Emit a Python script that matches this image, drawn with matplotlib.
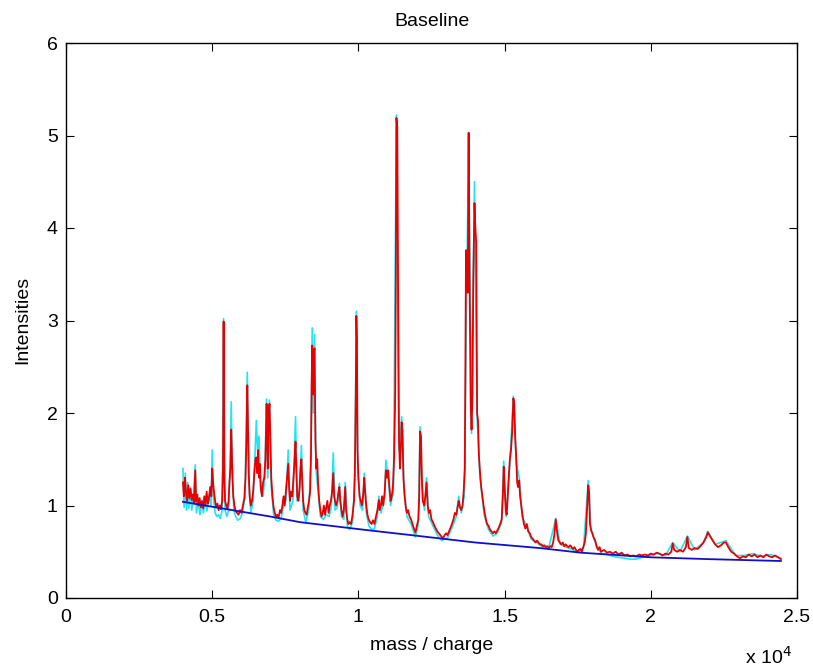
import numpy as np
import matplotlib
matplotlib.use('Agg')
import matplotlib.pyplot as plt

plt.rcParams['font.family'] = ['Liberation Sans', 'DejaVu Sans']

# mass/charge in units of 1e4, intensity
red_points = np.array([
    (0.400, 1.25), (0.403, 1.10), (0.407, 1.30), (0.410, 1.15), (0.414, 1.05),
    (0.418, 1.22), (0.422, 1.08), (0.426, 1.18), (0.430, 1.06), (0.434, 1.12),
    (0.438, 1.02), (0.442, 1.38), (0.445, 1.04), (0.449, 1.12), (0.453, 1.00),
    (0.457, 1.08), (0.461, 0.98), (0.465, 1.05), (0.469, 0.97), (0.473, 1.10),
    (0.477, 1.00), (0.481, 1.15), (0.485, 1.02), (0.489, 1.08), (0.493, 1.20),
    (0.497, 1.10), (0.500, 1.40), (0.503, 1.25), (0.506, 1.15), (0.510, 1.05),
    (0.514, 0.98), (0.518, 1.02), (0.522, 0.95), (0.526, 1.00), (0.530, 0.96),
    (0.534, 1.05), (0.537, 1.40), (0.539, 2.99), (0.541, 1.35), (0.544, 1.05),
    (0.548, 1.00), (0.552, 0.97), (0.556, 1.05), (0.559, 1.25), (0.562, 1.40),
    (0.565, 1.82), (0.567, 1.60), (0.569, 1.30), (0.572, 1.10), (0.576, 1.00),
    (0.580, 0.94), (0.585, 0.92), (0.590, 0.90), (0.595, 0.95), (0.600, 0.92),
    (0.605, 1.00), (0.610, 1.08), (0.614, 1.30), (0.617, 1.70), (0.620, 2.30),
    (0.622, 1.90), (0.625, 1.35), (0.628, 1.10), (0.632, 1.00), (0.636, 1.05),
    (0.640, 1.15), (0.644, 1.35), (0.648, 1.50), (0.651, 1.52), (0.654, 1.35),
    (0.657, 1.60), (0.660, 1.30), (0.663, 1.45), (0.666, 1.20), (0.670, 1.10),
    (0.674, 1.25), (0.678, 1.30), (0.682, 1.50), (0.686, 2.10), (0.688, 1.80),
    (0.690, 1.40), (0.693, 2.00), (0.696, 2.10), (0.699, 1.70), (0.702, 1.30),
    (0.706, 1.10), (0.710, 0.98), (0.714, 0.92), (0.718, 0.88), (0.722, 0.90),
    (0.727, 0.87), (0.732, 0.95), (0.736, 0.92), (0.740, 1.00), (0.744, 1.10),
    (0.748, 1.00), (0.752, 1.15), (0.756, 1.30), (0.760, 1.45), (0.763, 1.20),
    (0.766, 1.05), (0.770, 1.15), (0.774, 1.10), (0.778, 1.30), (0.782, 1.50),
    (0.785, 1.69), (0.788, 1.35), (0.791, 1.10), (0.795, 1.05), (0.799, 1.20),
    (0.802, 1.40), (0.805, 1.50), (0.808, 1.25), (0.811, 1.05), (0.815, 0.95),
    (0.819, 0.92), (0.823, 0.90), (0.827, 0.98), (0.831, 1.05), (0.835, 1.15),
    (0.838, 1.60), (0.840, 2.30), (0.842, 2.73), (0.845, 2.20), (0.848, 2.65),
    (0.850, 2.70), (0.853, 1.70), (0.856, 1.40), (0.859, 1.50), (0.862, 1.25),
    (0.866, 1.05), (0.870, 0.95), (0.874, 0.88), (0.878, 0.92), (0.882, 1.00),
    (0.886, 0.90), (0.890, 0.98), (0.894, 1.05), (0.898, 0.92), (0.902, 1.00),
    (0.906, 1.05), (0.910, 1.15), (0.914, 1.35), (0.917, 1.10), (0.920, 1.05),
    (0.924, 1.00), (0.928, 1.05), (0.932, 1.15), (0.935, 1.20), (0.938, 1.05),
    (0.942, 0.95), (0.946, 0.88), (0.950, 0.95), (0.955, 1.20), (0.958, 0.95),
    (0.962, 0.85), (0.966, 0.80), (0.970, 0.82), (0.975, 0.80), (0.980, 0.90),
    (0.985, 1.05), (0.988, 1.40), (0.991, 2.20), (0.993, 3.05), (0.995, 2.80),
    (0.997, 1.60), (1.000, 1.30), (1.004, 1.10), (1.008, 1.05), (1.012, 1.00),
    (1.016, 1.10), (1.020, 1.30), (1.023, 1.15), (1.027, 1.00), (1.031, 0.90),
    (1.035, 0.85), (1.040, 0.82), (1.045, 0.80), (1.050, 0.84), (1.055, 0.80),
    (1.060, 0.88), (1.065, 0.95), (1.070, 1.06), (1.073, 0.95), (1.077, 1.00),
    (1.081, 1.10), (1.085, 1.00), (1.090, 1.15), (1.094, 1.38), (1.098, 1.30),
    (1.102, 1.38), (1.106, 1.20), (1.110, 1.05), (1.114, 1.10), (1.118, 1.20),
    (1.122, 1.50), (1.126, 2.20), (1.128, 3.50), (1.130, 5.19), (1.133, 5.10),
    (1.136, 3.20), (1.139, 1.70), (1.142, 1.40), (1.145, 1.60), (1.148, 1.90),
    (1.151, 1.80), (1.154, 1.30), (1.158, 1.10), (1.162, 0.98), (1.166, 0.92),
    (1.170, 0.95), (1.175, 0.88), (1.180, 0.85), (1.185, 0.80), (1.190, 0.75),
    (1.195, 0.71), (1.200, 0.78), (1.205, 0.85), (1.208, 1.10), (1.211, 1.80),
    (1.214, 1.75), (1.217, 1.30), (1.220, 1.05), (1.225, 1.00), (1.229, 1.10),
    (1.233, 1.25), (1.237, 1.00), (1.241, 0.92), (1.245, 0.95), (1.250, 0.85),
    (1.255, 0.82), (1.260, 0.78), (1.265, 0.75), (1.270, 0.72), (1.275, 0.70),
    (1.280, 0.68), (1.285, 0.66), (1.290, 0.65), (1.295, 0.68), (1.300, 0.70),
    (1.305, 0.68), (1.310, 0.72), (1.315, 0.76), (1.320, 0.80), (1.325, 0.85),
    (1.330, 0.92), (1.335, 0.90), (1.340, 1.00), (1.343, 1.05), (1.347, 0.98),
    (1.352, 0.95), (1.356, 1.00), (1.360, 1.15), (1.364, 1.40), (1.366, 2.50),
    (1.368, 3.76), (1.371, 3.50), (1.374, 3.30), (1.377, 5.03), (1.380, 3.51),
    (1.384, 2.10), (1.387, 1.82), (1.390, 2.20), (1.393, 3.46), (1.397, 4.27),
    (1.400, 4.00), (1.403, 3.84), (1.406, 2.00), (1.409, 1.92), (1.412, 1.55),
    (1.416, 1.35), (1.420, 1.20), (1.424, 1.10), (1.428, 1.00), (1.432, 0.92),
    (1.436, 0.85), (1.440, 0.80), (1.445, 0.78), (1.450, 0.74), (1.455, 0.72),
    (1.460, 0.70), (1.465, 0.72), (1.470, 0.70), (1.475, 0.73), (1.480, 0.76),
    (1.485, 0.80), (1.490, 0.85), (1.494, 1.10), (1.497, 1.42), (1.500, 1.20),
    (1.504, 0.95), (1.507, 0.90), (1.510, 1.05), (1.514, 1.30), (1.518, 1.50),
    (1.522, 1.60), (1.526, 1.80), (1.530, 2.16), (1.533, 2.10), (1.536, 1.76),
    (1.540, 1.50), (1.543, 1.25), (1.546, 1.20), (1.550, 1.27), (1.553, 1.10),
    (1.557, 1.00), (1.561, 0.90), (1.566, 0.80), (1.571, 0.75), (1.576, 0.80),
    (1.581, 0.72), (1.586, 0.70), (1.591, 0.66), (1.596, 0.64), (1.601, 0.62),
    (1.606, 0.60), (1.611, 0.62), (1.616, 0.60), (1.621, 0.58), (1.626, 0.58),
    (1.631, 0.56), (1.636, 0.57), (1.641, 0.55), (1.646, 0.56), (1.651, 0.54),
    (1.656, 0.56), (1.661, 0.55), (1.666, 0.60), (1.670, 0.68), (1.675, 0.85),
    (1.680, 0.70), (1.684, 0.62), (1.689, 0.60), (1.694, 0.58), (1.699, 0.60),
    (1.704, 0.56), (1.709, 0.58), (1.714, 0.56), (1.719, 0.55), (1.724, 0.57),
    (1.729, 0.55), (1.734, 0.53), (1.739, 0.55), (1.744, 0.52), (1.749, 0.50),
    (1.754, 0.52), (1.759, 0.53), (1.764, 0.50), (1.769, 0.55), (1.774, 0.60),
    (1.778, 0.70), (1.782, 0.95), (1.786, 1.22), (1.789, 1.15), (1.792, 0.80),
    (1.796, 0.73), (1.800, 0.70), (1.805, 0.65), (1.810, 0.62), (1.815, 0.55),
    (1.820, 0.52), (1.825, 0.55), (1.830, 0.50), (1.840, 0.52), (1.850, 0.49),
    (1.860, 0.50), (1.870, 0.48), (1.880, 0.50), (1.890, 0.47), (1.900, 0.49),
    (1.910, 0.46), (1.920, 0.47), (1.930, 0.45), (1.940, 0.46), (1.950, 0.45),
    (1.960, 0.47), (1.970, 0.46), (1.980, 0.47), (1.990, 0.46), (2.000, 0.48),
    (2.010, 0.47), (2.020, 0.49), (2.030, 0.48), (2.040, 0.46), (2.050, 0.48),
    (2.060, 0.47), (2.070, 0.50), (2.075, 0.59), (2.080, 0.52), (2.090, 0.50),
    (2.100, 0.52), (2.110, 0.50), (2.120, 0.55), (2.125, 0.66), (2.130, 0.54),
    (2.140, 0.52), (2.150, 0.54), (2.160, 0.53), (2.170, 0.56), (2.180, 0.60),
    (2.190, 0.66), (2.195, 0.71), (2.200, 0.68), (2.210, 0.63), (2.220, 0.58),
    (2.230, 0.55), (2.240, 0.57), (2.250, 0.60), (2.257, 0.60), (2.265, 0.55),
    (2.275, 0.50), (2.285, 0.48), (2.295, 0.45), (2.305, 0.43), (2.315, 0.45),
    (2.325, 0.44), (2.335, 0.47), (2.345, 0.45), (2.355, 0.47), (2.365, 0.44),
    (2.375, 0.46), (2.385, 0.44), (2.395, 0.47), (2.405, 0.45), (2.415, 0.44),
    (2.425, 0.46), (2.435, 0.44), (2.445, 0.42),
])

cyan_points = np.array([
    (0.400, 1.40), (0.404, 0.98), (0.408, 1.35), (0.412, 0.95), (0.416, 1.25),
    (0.420, 0.97), (0.425, 1.20), (0.430, 0.95), (0.436, 1.10), (0.442, 1.44),
    (0.446, 0.92), (0.452, 1.05), (0.458, 0.90), (0.465, 1.02), (0.470, 0.92),
    (0.476, 1.05), (0.482, 0.94), (0.490, 1.12), (0.496, 1.00), (0.500, 1.60),
    (0.504, 1.10), (0.510, 0.92), (0.516, 0.88), (0.522, 0.90), (0.528, 0.86),
    (0.534, 0.95), (0.539, 3.02), (0.544, 0.95), (0.550, 0.88), (0.556, 0.95),
    (0.562, 1.45), (0.565, 2.12), (0.568, 1.50), (0.574, 0.95), (0.580, 0.88),
    (0.588, 0.84), (0.596, 0.86), (0.604, 0.92), (0.612, 1.10), (0.620, 2.44),
    (0.625, 1.30), (0.632, 0.92), (0.640, 1.05), (0.648, 1.70), (0.651, 1.92),
    (0.655, 1.60), (0.660, 1.75), (0.666, 1.15), (0.674, 1.10), (0.680, 1.30),
    (0.686, 2.15), (0.690, 1.30), (0.696, 2.14), (0.702, 1.20), (0.710, 0.90),
    (0.718, 0.84), (0.727, 0.83), (0.736, 0.86), (0.744, 1.00), (0.752, 1.05),
    (0.760, 1.60), (0.766, 0.95), (0.776, 1.05), (0.785, 1.96), (0.790, 1.05),
    (0.798, 1.10), (0.805, 1.65), (0.811, 0.95), (0.820, 0.82), (0.830, 0.95),
    (0.838, 1.50), (0.842, 2.92), (0.846, 2.00), (0.850, 2.85), (0.855, 1.40),
    (0.862, 1.15), (0.870, 0.88), (0.880, 0.85), (0.890, 0.90), (0.900, 0.88),
    (0.908, 1.00), (0.914, 1.57), (0.920, 0.95), (0.928, 0.98), (0.935, 1.24),
    (0.942, 0.88), (0.950, 0.85), (0.955, 1.25), (0.962, 0.78), (0.970, 0.74),
    (0.980, 0.82), (0.988, 1.30), (0.993, 3.10), (0.998, 1.40), (1.006, 1.00),
    (1.014, 0.95), (1.020, 1.35), (1.027, 0.92), (1.036, 0.78), (1.045, 0.74),
    (1.055, 0.75), (1.065, 0.88), (1.070, 1.10), (1.078, 0.92), (1.090, 1.10),
    (1.094, 1.49), (1.102, 1.30), (1.110, 1.00), (1.120, 1.15), (1.130, 5.22),
    (1.138, 1.60), (1.148, 1.96), (1.156, 1.20), (1.166, 0.88), (1.180, 0.80),
    (1.195, 0.66), (1.205, 0.80), (1.211, 1.85), (1.218, 1.20), (1.226, 0.95),
    (1.233, 1.30), (1.240, 0.88), (1.255, 0.78), (1.270, 0.68), (1.285, 0.62),
    (1.295, 0.64), (1.305, 0.65), (1.320, 0.76), (1.335, 0.88), (1.343, 1.10),
    (1.352, 0.92), (1.362, 1.10), (1.377, 5.00), (1.387, 1.78), (1.397, 4.50),
    (1.406, 1.95), (1.416, 1.30), (1.430, 0.90), (1.445, 0.74), (1.460, 0.67),
    (1.475, 0.70), (1.490, 0.82), (1.497, 1.48), (1.505, 0.88), (1.515, 1.30),
    (1.530, 2.18), (1.540, 1.45), (1.550, 1.30), (1.560, 0.88), (1.575, 0.78),
    (1.590, 0.64), (1.610, 0.60), (1.630, 0.55), (1.650, 0.53), (1.675, 0.86),
    (1.690, 0.58), (1.710, 0.55), (1.730, 0.53), (1.750, 0.49), (1.770, 0.55),
    (1.786, 1.27), (1.795, 0.75), (1.810, 0.60), (1.830, 0.48), (1.850, 0.47),
    (1.870, 0.45), (1.890, 0.44), (1.910, 0.43), (1.930, 0.42), (1.950, 0.42),
    (1.970, 0.44), (1.990, 0.45), (2.020, 0.48), (2.050, 0.46), (2.075, 0.60),
    (2.100, 0.50), (2.125, 0.67), (2.150, 0.52), (2.180, 0.60), (2.195, 0.72),
    (2.220, 0.58), (2.257, 0.62), (2.290, 0.46), (2.320, 0.46), (2.350, 0.48),
    (2.380, 0.45), (2.410, 0.47), (2.445, 0.43),
])

baseline_mz = [0.40, 0.55, 0.70, 0.80, 1.04, 1.18, 1.40, 1.62, 1.76, 2.00, 2.20, 2.445]
baseline_int = [1.04, 0.96, 0.88, 0.82, 0.73, 0.68, 0.60, 0.54, 0.49, 0.44, 0.42, 0.40]

x_ticks = [0, 0.5, 1, 1.5, 2, 2.5]
x_tick_labels = ['0', '0.5', '1', '1.5', '2', '2.5']
y_ticks = [0, 1, 2, 3, 4, 5, 6]

scale = 1e4
fs = 14

fig = plt.figure(figsize=(8.13, 6.67), dpi=100)
ax = fig.add_axes([66 / 813, 1 - 598 / 667, (797 - 66) / 813, (598 - 43) / 667])

ax.plot(cyan_points[:, 0] * scale, cyan_points[:, 1], color='#22e4f2', lw=1.2)
ax.plot(red_points[:, 0] * scale, red_points[:, 1], color='#e80000', lw=1.3)
ax.plot(np.array(baseline_mz) * scale, baseline_int, color='#1010c8', lw=1.3)

ax.set_xlim(0, 2.5 * scale)
ax.set_ylim(0, 6)
ax.set_xticks([t * scale for t in x_ticks])
ax.set_xticklabels(x_tick_labels)
ax.set_yticks(y_ticks)
ax.tick_params(direction='in', length=6, top=True, right=True, labelsize=fs)
ax.tick_params(axis='x', pad=8)
ax.tick_params(axis='y', pad=6)
for s in ax.spines.values():
    s.set_linewidth(1.0)

fig.text(0.5 * (66 + 797) / 813, 1 - 21 / 667, 'Baseline', fontsize=fs, ha='center', va='center')
fig.text(0.5 * (66 + 797) / 813, 1 - 646 / 667, 'mass / charge', fontsize=fs, ha='center', va='center')
fig.text(23 / 813, 1 - 320 / 667, 'Intensities', fontsize=fs, ha='center', va='center', rotation=90)
fig.text(745 / 813, 1 - 657 / 667, 'x 10$^{4}$', fontsize=fs, va='center')

fig.savefig('out.png', dpi=100)
